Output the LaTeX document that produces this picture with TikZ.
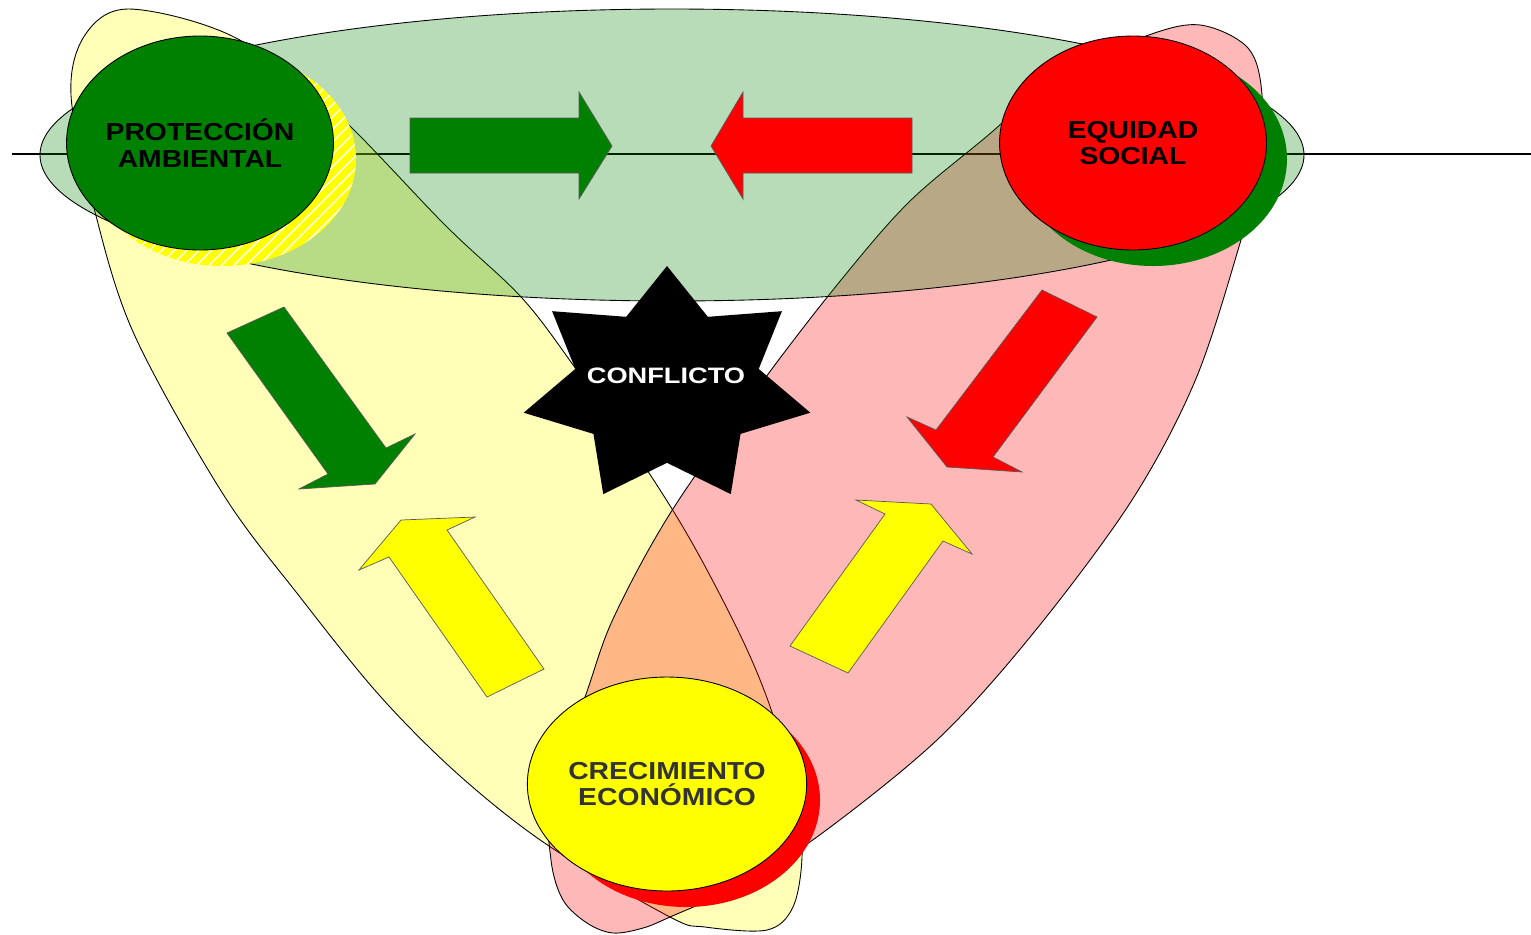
\documentclass[tikz,border=0pt]{standalone}
\usepackage{fontspec}
\usetikzlibrary{shapes.geometric,patterns.meta}
\newfontfamily\labelfont[FakeStretch=1.15]{Liberation Sans}
\newfontfamily\starfont[FakeStretch=1.22]{Liberation Sans}
\definecolor{pagreen}{RGB}{0,128,0}
\definecolor{pared}{RGB}{255,0,0}
\definecolor{payellow}{RGB}{255,255,0}
\definecolor{ecogray}{RGB}{51,51,51}

\begin{document}
\begin{tikzpicture}[x=0.02cm,y=-0.02cm,
    petal/.style={draw=black,line width=0.5pt,fill opacity=0.28},
    blockarrow/.style={draw=black!65,line width=0.4pt},
    bubble/.style={ellipse,draw=black,line width=0.5pt,inner sep=0pt,
        minimum width=5.34cm,minimum height=4.28cm,align=center,
        font=\labelfont\bfseries\fontsize{14}{15}\selectfont},
    startext/.style={text=white,font=\starfont\bfseries\fontsize{12.7}{14}\selectfont}]
  \useasboundingbox (0,0) rectangle (1531,934);

  % axis
  \draw[line width=1.1pt] (12,154) -- (1531,154);

  % overlapping fields
  \path[petal,fill=payellow] plot[smooth cycle,tension=0.55] coordinates {
      (129,9) (232,36) (330,107) (446,226) (522,298) (576,369) (647,470)
      (695,548) (744,643) (773,715) (797,800) (802,857) (793,907) (767,930)
      (705,927) (670,917) (549,846) (460,776) (380,696) (300,597) (223,494)
      (134,334) (94,208) (71,95) (85,35)};
  \path[petal,fill=pared] plot[smooth cycle,tension=0.55] coordinates {
      (1200,25) (1248,48) (1262,95) (1258,170) (1238,250) (1195,381)
      (1132,500) (1035,631) (938,739) (821,834) (740,885) (670,917)
      (643,928) (613,933) (587,923) (563,900) (551,860) (550,790) (585,697)
      (613,619) (671,512) (763,381) (841,280) (909,202) (986,137) (1060,75)
      (1146,36)};
  \path[petal,fill=pagreen] (672,155) ellipse [x radius=632,y radius=146];

  % block arrows
  \filldraw[blockarrow,fill=pagreen] (410,118) -- (579,118) -- (579,92)
      -- (612,146) -- (579,199) -- (579,173) -- (410,173) -- cycle;
  \filldraw[blockarrow,fill=pared] (912,118) -- (743,118) -- (743,92)
      -- (711,146) -- (743,199) -- (743,173) -- (912,173) -- cycle;
  \filldraw[blockarrow,fill=pagreen] (227,333) -- (284,307) -- (386,448)
      -- (415,434) -- (375,484) -- (299,489) -- (328,474) -- cycle;
  \filldraw[blockarrow,fill=payellow] (487,697) -- (389,557) -- (359,570)
      -- (401,520) -- (475,517) -- (447,530) -- (544,669) -- cycle;
  \filldraw[blockarrow,fill=pared] (1042,290) -- (936,430) -- (907,417)
      -- (947,467) -- (1022,472) -- (993,457) -- (1097,317) -- cycle;
  \filldraw[blockarrow,fill=payellow] (790,646) -- (885,514) -- (856,500)
      -- (931,504) -- (972,554) -- (943,541) -- (848,673) -- cycle;

  % conflict star
  \fill[black] (667,266) \foreach \k [evaluate=\k as \r using {mod(\k,2)==0 ? 1 : 0.64}]
      in {1,...,13} { -- ({667+147*\r*cos(-90+\k*360/14)},{386+120*\r*sin(-90+\k*360/14)}) } -- cycle;
  \node[startext] (conflicto) at (666,376) {CONFLICTO};

  % shadows
  \fill[payellow] (222,159) ellipse [x radius=134,y radius=107];
  \fill[pattern={Lines[angle=45,distance=5pt,line width=0.8pt]},pattern color=white]
      (222,159) ellipse [x radius=134,y radius=107];
  \fill[pagreen] (1153,159) ellipse [x radius=134,y radius=107];
  \fill[pared] (686,800) ellipse [x radius=134,y radius=107];

  % pillars
  \node[bubble,fill=pagreen] (proteccion) at (200,143) {PROTECCIÓN\\AMBIENTAL};
  \node[bubble,fill=pared] (equidad) at (1133,143) {EQUIDAD\\SOCIAL};
  \node[bubble,fill=payellow,text=ecogray] (crecimiento) at (667,784) {CRECIMIENTO\\ECONÓMICO};
\end{tikzpicture}
\end{document}
